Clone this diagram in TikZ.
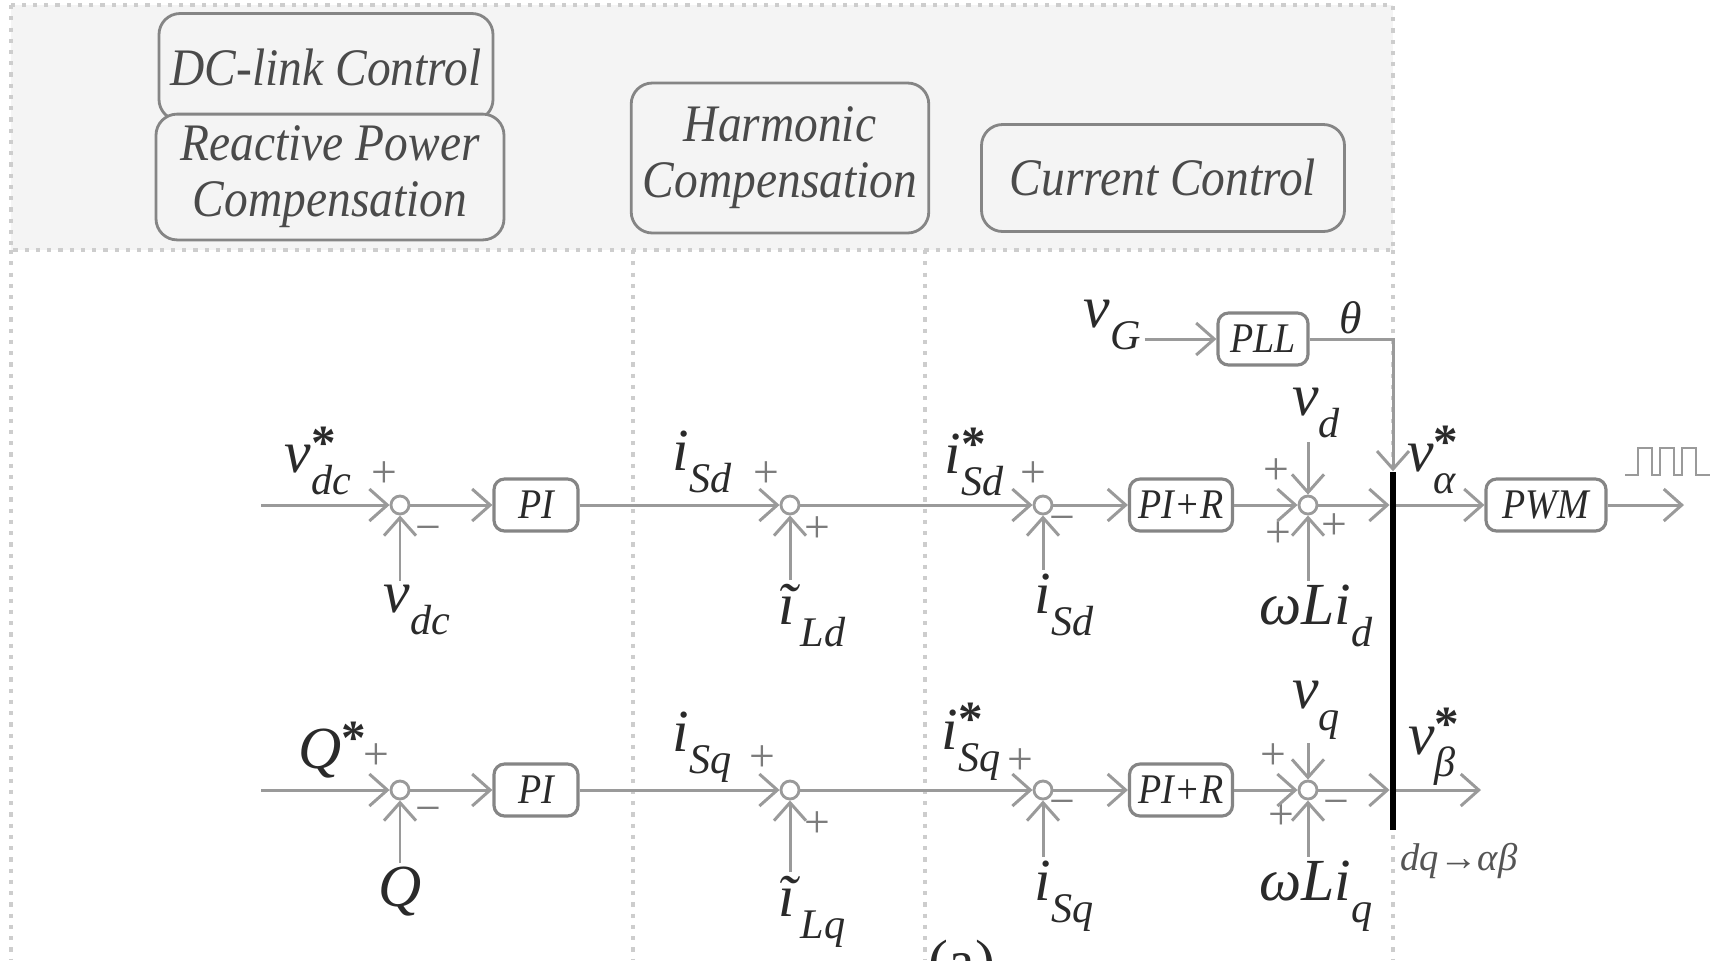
\documentclass[tikz,border=0pt]{standalone}
\usepackage{fontspec}
\setmainfont{Liberation Serif}
\newfontfamily\narrowfont[FakeStretch=0.9]{Liberation Serif}
\usetikzlibrary{arrows.meta,positioning}

\definecolor{linegray}{HTML}{9A9A9A}
\definecolor{boxgray}{HTML}{858585}
\definecolor{bandgray}{HTML}{F4F4F4}
\definecolor{dotgray}{HTML}{CDCDCD}
\definecolor{txtgray}{HTML}{2A2A2A}

% variable with optional star and subscript
\newcommand{\varlbl}[3]{\textit{#1}\rlap{\raisebox{0.5ex}{\fontsize{14}{14}\selectfont\bfseries #2}}{\raisebox{-0.8ex}{\fontsize{12}{12}\selectfont\textit{#3}}}}

\begin{document}
\begin{tikzpicture}[
    ln/.style   = {draw=linegray, line width=0.85pt},
    arr/.style  = {ln, -{Straight Barb[length=1.8mm, width=3.2mm]}},
    dotline/.style = {draw=dotgray, line width=1.2pt, dotted},
    hdr/.style  = {draw=boxgray, rounded corners=6pt, fill=bandgray, align=center,
                   line width=0.8pt, text=txtgray!85,
                   font=\narrowfont\itshape\fontsize{15}{16}\selectfont},
    blk/.style  = {draw=boxgray, rounded corners=3pt, line width=0.9pt, fill=white,
                   minimum height=0.52cm, inner sep=1pt, text=txtgray,
                   font=\narrowfont\itshape\fontsize{12}{12}\selectfont},
    sumnode/.style = {circle, draw=linegray, line width=0.8pt, fill=white,
                   minimum size=0.18cm, inner sep=0pt},
    lbl/.style  = {inner sep=1pt, text=txtgray, font=\fontsize{17}{17}\selectfont},
    sgn/.style  = {inner sep=0pt, text=linegray!80!black, font=\fontsize{13}{13}\selectfont},
  ]
    \useasboundingbox (0,0) rectangle (17.2,-9.6);

    \fill[bandgray] (0.11,-0.05) rectangle (13.93,-2.50);
    \draw[dotline] (0.11,-0.05) rectangle (13.93,-2.50);
    \draw[dotline] (0.11,-2.50) -- (0.11,-9.6);
    \draw[dotline] (6.33,-2.50) -- (6.33,-9.6);
    \draw[dotline] (9.25,-2.50) -- (9.25,-9.6);
    \draw[dotline] (13.93,-2.50) -- (13.93,-9.6);

    \node[hdr, minimum width=3.22cm, minimum height=1.07cm] (dclink) at (3.26,-0.67) {DC-link Control};
    \node[hdr, minimum width=3.48cm, minimum height=1.07cm] (rpc)    at (3.30,-1.77) {Reactive Power\\Compensation};
    \node[hdr, minimum width=2.90cm, minimum height=1.50cm] (harm)   at (7.80,-1.58) {Harmonic\\Compensation};
    \node[hdr, minimum width=3.63cm, minimum height=1.07cm] (curr)   at (11.63,-1.78) {Current Control};

    % d axis
    \coordinate (ind) at (2.61,-5.05);
    \node[sumnode] (sd1) at (4.00,-5.05) {};
    \node[blk, minimum width=0.84cm] (pid)  at (5.36,-5.05) {PI};
    \node[sumnode] (sd2) at (7.90,-5.05) {};
    \node[sumnode] (sd3) at (10.43,-5.05) {};
    \node[blk, minimum width=1.03cm] (pird) at (11.81,-5.05) {PI+R};
    \node[sumnode] (sd4) at (13.08,-5.05) {};
    \node[fill=black, minimum width=0.055cm, minimum height=3.58cm, inner sep=0pt] (bar) at (13.93,-6.51) {};
    \node[blk, minimum width=1.20cm] (pwm)  at (15.46,-5.05) {PWM};
    \coordinate (outd) at (16.84,-5.05);

    % q axis
    \coordinate (inq) at (2.61,-7.90);
    \node[sumnode] (sq1) at (4.00,-7.90) {};
    \node[blk, minimum width=0.84cm] (piq)  at (5.36,-7.90) {PI};
    \node[sumnode] (sq2) at (7.90,-7.90) {};
    \node[sumnode] (sq3) at (10.43,-7.90) {};
    \node[blk, minimum width=1.03cm] (pirq) at (11.81,-7.90) {PI+R};
    \node[sumnode] (sq4) at (13.08,-7.90) {};
    \coordinate (outq) at (14.81,-7.90);

    \node[blk, minimum width=0.90cm] (pll) at (12.63,-3.39) {PLL};

    % signal labels
    \node[lbl] (vdcref) at (3.18,-4.61) {\varlbl{v}{*}{dc}};
    \node[lbl] (vdc)    at (4.17,-6.10) {\varlbl{v}{}{dc}};
    \node[lbl] (isdpi)  at (7.02,-4.62) {\varlbl{i}{}{Sd}};
    \node[lbl] (ild)    at (8.12,-6.16) {\varlbl{ĩ}{}{Ld}};
    \node[lbl] (isdref) at (9.74,-4.62) {\varlbl{i}{*}{Sd}};
    \node[lbl] (isd)    at (10.64,-6.05) {\varlbl{i}{}{Sd}};
    \node[lbl] (vd)     at (13.16,-4.13) {\varlbl{v}{}{d}};
    \node[lbl] (wlid)   at (13.16,-6.16) {\varlbl{ωLi}{}{d}};
    \node[lbl] (valpha) at (14.32,-4.60) {\varlbl{v}{*}{α}};

    \node[lbl] (qref)   at (3.20,-7.56) {\varlbl{Q}{*}{}};
    \node[lbl] (qmeas)  at (4.00,-8.98) {\varlbl{Q}{}{}};
    \node[lbl] (isqpi)  at (7.02,-7.47) {\varlbl{i}{}{Sq}};
    \node[lbl] (ilq)    at (8.12,-9.12) {\varlbl{ĩ}{}{Lq}};
    \node[lbl] (isqref) at (9.71,-7.42) {\varlbl{i}{*}{Sq}};
    \node[lbl] (isq)    at (10.64,-8.96) {\varlbl{i}{}{Sq}};
    \node[lbl] (vq)     at (13.16,-7.10) {\varlbl{v}{}{q}};
    \node[lbl] (wliq)   at (13.16,-8.96) {\varlbl{ωLi}{}{q}};
    \node[lbl] (vbeta)  at (14.32,-7.47) {\varlbl{v}{*}{β}};

    \node[lbl] (vg)    at (11.12,-3.25) {\varlbl{v}{}{G}};
    \node[lbl, font=\itshape\fontsize{13}{13}\selectfont] (theta) at (13.51,-3.18) {θ};
    \node[lbl, font=\itshape\fontsize{11}{11}\selectfont, text=txtgray!80] (trafo) at (14.59,-8.61) {dq→αβ};
    \node[lbl, anchor=north] (fig) at (9.62,-9.36) {(a)};

    % signs
    \node[sgn] at (3.84,-4.75) {+};  \node[sgn] at (4.28,-5.34) {−};
    \node[sgn] at (7.66,-4.75) {+};  \node[sgn] at (8.17,-5.30) {+};
    \node[sgn] at (10.33,-4.75) {+}; \node[sgn] at (10.62,-5.24) {−};
    \node[sgn] at (12.76,-4.72) {+}; \node[sgn] at (12.78,-5.35) {+};
    \node[sgn] at (13.34,-5.27) {+};

    \node[sgn] at (3.76,-7.57) {+};  \node[sgn] at (4.28,-8.15) {−};
    \node[sgn] at (7.62,-7.59) {+};  \node[sgn] at (8.17,-8.25) {+};
    \node[sgn] at (10.20,-7.62) {+}; \node[sgn] at (10.62,-8.08) {−};
    \node[sgn] at (12.73,-7.57) {+}; \node[sgn] at (12.81,-8.17) {+};
    \node[sgn] at (13.36,-8.08) {−};

    % d axis connectors
    \draw[arr] (ind) -- (sd1);
    \draw[arr] (vdc.north -| sd1) -- (sd1);
    \draw[arr] (sd1) -- (pid);
    \draw[arr] (pid) -- (sd2);
    \draw[arr] (ild.north -| sd2) -- (sd2);
    \draw[arr] (sd2) -- (sd3);
    \draw[arr] (isd.north -| sd3) -- (sd3);
    \draw[arr] (sd3) -- (pird);
    \draw[arr] (pird) -- (sd4);
    \draw[arr] (vd.south -| sd4) -- (sd4);
    \draw[arr] (wlid.north -| sd4) -- (sd4);
    \draw[arr] (sd4) -- (sd4 -| bar.west);
    \draw[arr] (bar.east |- pwm) -- (pwm);
    \draw[arr] (pwm) -- (outd);

    % q axis connectors
    \draw[arr] (inq) -- (sq1);
    \draw[arr] (qmeas.north -| sq1) -- (sq1);
    \draw[arr] (sq1) -- (piq);
    \draw[arr] (piq) -- (sq2);
    \draw[arr] (ilq.north -| sq2) -- (sq2);
    \draw[arr] (sq2) -- (sq3);
    \draw[arr] (isq.north -| sq3) -- (sq3);
    \draw[arr] (sq3) -- (pirq);
    \draw[arr] (pirq) -- (sq4);
    \draw[arr] (vq.south -| sq4) -- (sq4);
    \draw[arr] (wliq.north -| sq4) -- (sq4);
    \draw[arr] (sq4) -- (sq4 -| bar.west);
    \draw[arr] (bar.east |- outq) -- (outq);

    % grid angle
    \draw[arr] (vg.east |- pll) -- (pll);
    \draw[arr] (pll) -| (bar.north);

    % gate pulses
    \draw[ln, line width=0.7pt] (16.25,-4.75) -- (16.38,-4.75) -- (16.38,-4.48) -- (16.52,-4.48)
        -- (16.52,-4.75) -- (16.60,-4.75) -- (16.60,-4.48) -- (16.74,-4.48) -- (16.74,-4.75)
        -- (16.82,-4.75) -- (16.82,-4.48) -- (16.96,-4.48) -- (16.96,-4.75) -- (17.10,-4.75);
  \end{tikzpicture}
\end{document}
